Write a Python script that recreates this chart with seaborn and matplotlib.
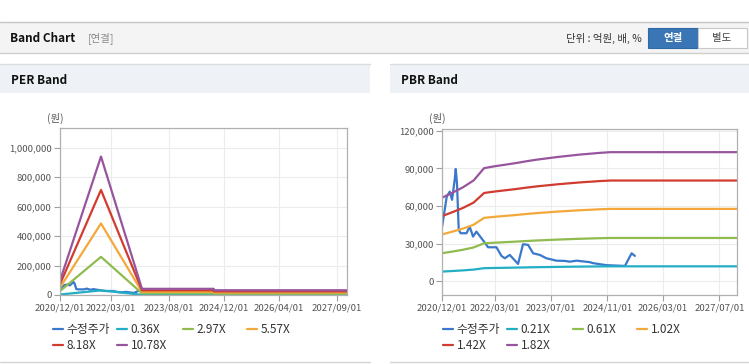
import pandas as pd
import seaborn as sns
import matplotlib.pyplot as plt
import matplotlib.ticker as mtick
from matplotlib.patches import Rectangle
from matplotlib.lines import Line2D

# 수정주가 (두 차트 공통)
price_dates = ["2020-12-01", "2021-01-11", "2021-02-06", "2021-02-26", "2021-03-21",
               "2021-03-30", "2021-04-10", "2021-04-25", "2021-05-12", "2021-07-01",
               "2021-07-29", "2021-08-27", "2021-09-25", "2021-11-08", "2021-12-21",
               "2022-01-04", "2022-03-18", "2022-04-30", "2022-05-29", "2022-07-11",
               "2022-09-21", "2022-11-03", "2022-12-17", "2023-01-29", "2023-03-28",
               "2023-05-25", "2023-08-20", "2023-10-31", "2023-12-14", "2024-02-10",
               "2024-06-04", "2024-07-03", "2024-10-27", "2025-04-04", "2025-06-01",
               "2025-06-29"]
price = [43000, 67500, 71500, 65000, 81000,
         89600, 78000, 41000, 38300, 38300,
         43500, 35600, 39600, 34300, 29000,
         27100, 27100, 20200, 18300, 21000,
         13800, 29500, 29000, 22300, 21000,
         18300, 16400, 16200, 15600, 16400,
         15200, 14400, 12800, 12200, 22300,
         20200]

# PER Band : EPS x 배수
per_dates = ["2020-12-01", "2021-12-01", "2022-12-01", "2024-08-31", "2024-09-01", "2027-12-01"]
per_eps = [9000, 87300, 3900, 3900, 3000, 3000]
per_mult = [0.36, 2.97, 5.57, 8.18, 10.78]

# PBR Band : BPS x 배수
pbr_dates = ["2020-12-01", "2021-03-01", "2021-06-01", "2021-09-01", "2021-12-01",
             "2022-03-01", "2022-06-01", "2022-09-01", "2022-12-01", "2023-03-01",
             "2023-06-01", "2023-09-01", "2023-12-01", "2024-03-01", "2024-06-01",
             "2024-09-01", "2024-12-01", "2027-12-01"]
pbr_bps = [36600, 38800, 41200, 44200, 49600,
           50400, 51100, 51800, 52600, 53300,
           53900, 54500, 55000, 55500, 55900,
           56300, 56600, 56600]
pbr_mult = [0.21, 0.61, 1.02, 1.42, 1.82]

per_xticks = ["2020/12/01", "2022/03/01", "2023/08/01", "2024/12/01", "2026/04/01", "2027/09/01"]
pbr_xticks = ["2020/12/01", "2022/03/01", "2023/07/01", "2024/11/01", "2026/03/01", "2027/07/01"]

price_color = "#3a78cc"
band_colors = ["#22aec4", "#8fbb4f", "#f3a83b", "#d23b30", "#97559e"]

W, H = 749, 364

sns.set_style("whitegrid")
plt.rcParams["font.family"] = ["Noto Sans CJK KR", "DejaVu Sans"]

fig = plt.figure(figsize=(W / 100, H / 100), dpi=100, facecolor="white")


def fy(y):
    return 1 - y / H


def rect(x0, y0, x1, y1, **kw):
    fig.patches.append(Rectangle((x0 / W, fy(y1)), (x1 - x0) / W, (y1 - y0) / H,
                                 transform=fig.transFigure, **kw))


def hline(x0, x1, y, color):
    fig.lines.append(Line2D([x0 / W, x1 / W], [fy(y), fy(y)], transform=fig.transFigure,
                            color=color, lw=1))


def text(x, y, s, **kw):
    fig.text(x / W, fy(y), s, va="center", **kw)


# 상단 헤더
rect(0, 22, W, 53, facecolor="#f4f4f4", edgecolor="none")
hline(0, W, 22, "#c6c6c6")
hline(0, W, 53, "#cfcfcf")
text(10, 38, "Band Chart", fontsize=8.5, fontweight="bold", color="#111111")
text(88, 38, "[연결]", fontsize=7.5, color="#8a8a8a")
text(642, 38, "단위 : 억원, 배, %", fontsize=7.5, color="#333333", ha="right")
rect(648, 28, 698, 48, facecolor="#3a76b6", edgecolor="#2f6aa8", lw=0.8)
rect(698, 28, 747, 48, facecolor="white", edgecolor="#c8c8c8", lw=0.8)
text(673, 38, "연결", fontsize=7.5, fontweight="bold", color="white", ha="center")
text(722, 38, "별도", fontsize=7.5, color="#444444", ha="center")

# 패널 제목
for x0, x1, title in [(0, 370, "PER Band"), (390, W, "PBR Band")]:
    rect(x0, 64, x1, 93, facecolor="#eef2f7", edgecolor="none")
    hline(x0, x1, 64, "#dcdcdc")
    hline(x0, x1, 362, "#d4d4d4")
    text(x0 + 11, 80, title, fontsize=8.5, fontweight="bold", color="#111111")

ax1 = fig.add_axes([60 / W, fy(295), 287 / W, 167 / H])
ax2 = fig.add_axes([442 / W, fy(295), 295 / W, 166 / H])

panels = [
    (ax1, per_dates, per_eps, per_mult, per_xticks, (0, 1135000), range(0, 1000001, 200000)),
    (ax2, pbr_dates, pbr_bps, pbr_mult, pbr_xticks, (-11000, 121500), range(0, 120001, 30000)),
]

for ax, dates, base, mults, xticks, ylim, yticks in panels:
    sns.lineplot(x=pd.to_datetime(price_dates), y=price, ax=ax, color=price_color,
                 lw=1.6, label="수정주가", legend=False)
    for m, c in zip(mults, band_colors):
        sns.lineplot(x=pd.to_datetime(dates), y=[m * v for v in base], ax=ax, color=c,
                     lw=1.6, label=f"{m:.2f}X", legend=False)

    ax.set_xlim(pd.Timestamp("2020-12-01"), pd.Timestamp("2027-12-01"))
    ax.set_ylim(*ylim)
    ax.set_xticks(pd.to_datetime([t.replace("/", "-") for t in xticks]))
    ax.set_xticklabels(xticks)
    ax.set_yticks(list(yticks))
    ax.yaxis.set_major_formatter(mtick.FuncFormatter(lambda v, _: f"{int(v):,}"))
    ax.set_xlabel("")
    ax.set_ylabel("")
    ax.grid(color="#ececec", lw=0.8)
    ax.tick_params(bottom=True, left=True, length=4, width=0.8, color="#a0a0a0",
                   labelsize=6.9, labelcolor="#555555", pad=2)
    for s in ax.spines.values():
        s.set_color("#b0b0b0")
        s.set_linewidth(0.9)

text(55, 118, "(원)", fontsize=7.5, color="#555555", ha="center")
text(437, 118, "(원)", fontsize=7.5, color="#555555", ha="center")

# 범례: 행 우선 배치 (4열)
legend_cols = [[0, 4], [1, 5], [2], [3]]
for ax, xs in [(ax1, [53, 117, 183, 247]), (ax2, [443, 507, 573, 637])]:
    handles, labels = ax.get_legend_handles_labels()
    for x, idx in zip(xs, legend_cols):
        fig.legend([handles[i] for i in idx], [labels[i] for i in idx],
                   loc="upper left", bbox_to_anchor=(x / W, fy(323)), frameon=False,
                   fontsize=8.5, handlelength=0.85, handletextpad=0.3, labelspacing=0.25,
                   borderpad=0, borderaxespad=0, labelcolor="#333333")

fig.savefig("out.png", dpi=100, facecolor="white")
